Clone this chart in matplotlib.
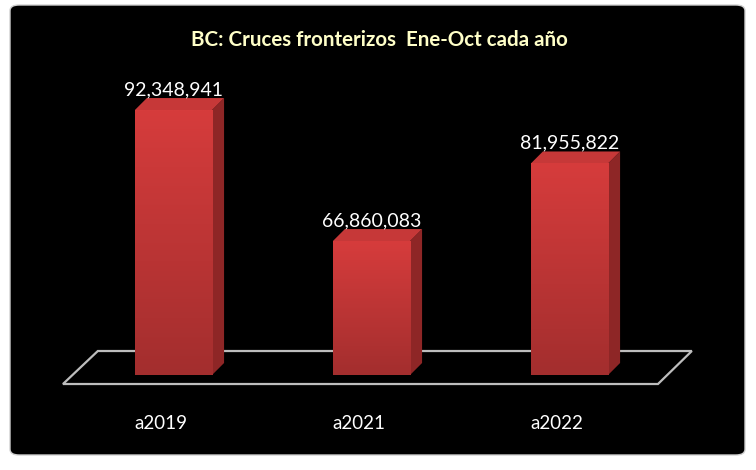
import numpy as np
import matplotlib.pyplot as plt
from matplotlib.patches import Polygon, FancyBboxPatch
from matplotlib.transforms import offset_copy
from matplotlib.colors import LinearSegmentedColormap

# data
categories = ["a2019", "a2021", "a2022"]
values = [92348941, 66860083, 81955822]
title = "BC: Cruces fronterizos  Ene-Oct cada año"

plt.rcParams['font.family'] = ['Lato', 'DejaVu Sans']

fig = plt.figure(figsize=(7.56, 4.70), dpi=100)
fig.patch.set_facecolor("white")

# black rounded panel
panel = FancyBboxPatch((10 / 756, 15 / 470), 735 / 756, 450 / 470,
                       boxstyle="round,pad=0,rounding_size=0.012",
                       transform=fig.transFigure, facecolor="black",
                       edgecolor="#d0d0d0", linewidth=1.0, zorder=-5)
fig.patches.append(panel)

ax = fig.add_axes([0, 0, 1, 1])
ax.set_zorder(2)
ax.set_facecolor("none")
ax.set_axis_off()

# scale: one category step ~198 px, 1e6 ~5.14 px
base = 40.8e6
ax.set_xlim(-0.876, 2.942)
ax.set_ylim(22.32e6, 113.76e6)

px_x = 1 / 198.0
px_y = 1e6 / 5.14
dx = 12 * px_x
dy = 12 * px_y
width = 0.39

# floor
floor = Polygon([(-0.558, 39.05e6), (2.447, 39.05e6), (2.618, 45.47e6), (-0.382, 45.47e6)],
                closed=True, facecolor="black", edgecolor="#bdbdbd", linewidth=1.6, zorder=1)
ax.add_patch(floor)

x = np.arange(len(categories))
bars = ax.bar(x, [v - base for v in values], width=width, bottom=base,
              color="#c83636", edgecolor="none", zorder=3)

grad = np.linspace(0, 1, 256).reshape(-1, 1)
cmap = LinearSegmentedColormap.from_list("redgrad", ["#a32e2e", "#d63c3c"])

for xi, v, b in zip(x, values, bars):
    l, r = xi - width / 2, xi + width / 2
    im = ax.imshow(grad, cmap=cmap, aspect="auto", origin="lower",
                   extent=(l, r, base, v), zorder=3)
    im.set_clip_path(b)
    # side face
    side = Polygon([(r, base), (r + dx, base + dy), (r + dx, v + dy), (r, v)],
                   closed=True, facecolor="#8e2626", edgecolor="none", zorder=2.5)
    ax.add_patch(side)
    # top face
    top = Polygon([(l, v), (r, v), (r + dx, v + dy), (l + dx, v + dy)],
                  closed=True, facecolor="#c63838", edgecolor="none", zorder=2.5)
    ax.add_patch(top)
    ax.text(xi, v + dy, f"{v:,}", color="white", fontsize=14,
            ha="center", va="bottom", zorder=5)

ax.set_xlim(-0.876, 2.942)
ax.set_ylim(22.32e6, 113.76e6)

lab_tr = offset_copy(ax.transData, fig=fig, x=-13, y=0, units="dots")
for xi, c in zip(x, categories):
    ax.text(xi, 31.3e6, c, color="white", fontsize=13.5, ha="center",
            va="center", transform=lab_tr)

fig.text(379 / 756, 1 - 40 / 470, title, color="#ffffc8", fontsize=14.8,
         fontweight="bold", ha="center", va="center")

fig.savefig("out.png", dpi=100, facecolor="white")
